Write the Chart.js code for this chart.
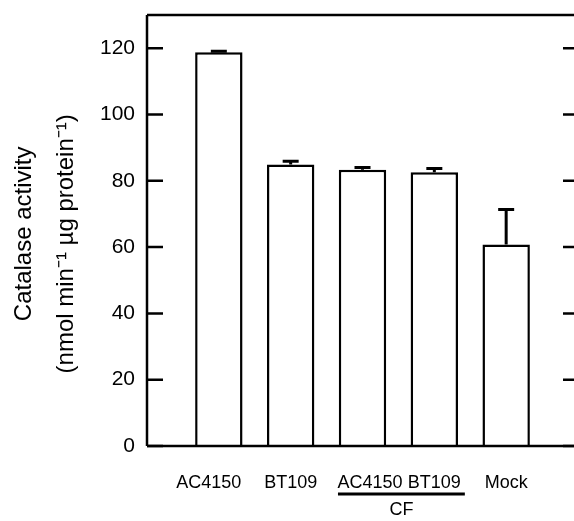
<!DOCTYPE html>
<html>
<head>
<meta charset="utf-8">
<script src="https://cdn.jsdelivr.net/npm/chart.js@4/dist/chart.umd.min.js"></script>
<style>
  html, body { margin: 0; padding: 0; background: #fff; overflow: hidden; }
  #wrap { width: 591px; height: 521px; }
</style>
</head>
<body>
<div id="wrap"><canvas id="myChart" width="591" height="521"></canvas></div>
<script>
// values
var strains = ['AC4150', 'BT109', 'AC4150', 'BT109', 'Mock'];
var activity = [118.8, 84.9, 83.3, 82.6, 60.8];
var errors = [0.3, 1.0, 0.7, 1.1, 10.5];
var yTicks = [0, 20, 40, 60, 80, 100, 120];
var groupLabel = 'CF';   // under the 3rd and 4th bars

var font = '"Liberation Sans", Arial, Helvetica, sans-serif';

// empty slot at both ends so the bars sit where the original puts them
var labels = [''].concat(strains).concat(['']);
var values = [null].concat(activity).concat([null]);
var errs = [null].concat(errors).concat([null]);

var framePlugin = {
  id: 'frame',
  afterDraw: function (chart) {
    var c = chart.ctx, a = chart.chartArea, y = chart.scales.y, x = chart.scales.x;
    c.save();
    c.strokeStyle = '#000';
    c.lineWidth = 2.5;
    c.beginPath();
    c.moveTo(a.left, a.top); c.lineTo(a.right, a.top);
    c.moveTo(a.left, a.top); c.lineTo(a.left, a.bottom);
    c.moveTo(a.left, a.bottom); c.lineTo(a.right + 20, a.bottom);
    c.moveTo(a.right, a.top); c.lineTo(a.right, a.bottom);
    c.stroke();
    // inward tick marks on both sides
    c.beginPath();
    yTicks.forEach(function (t) {
      var py = y.getPixelForValue(t);
      c.moveTo(a.left, py); c.lineTo(a.left + 16, py);
      c.moveTo(a.right - 15, py); c.lineTo(a.right, py);
    });
    c.stroke();

    // "CF" group line under the two culture filtrate bars
    c.font = '18px ' + font;
    var w3 = c.measureText(strains[2]).width, w4 = c.measureText(strains[3]).width;
    var x1 = x.getPixelForValue(3) - w3 / 2 + 8;
    var x2 = x.getPixelForValue(4) + w4 / 2 + 4;
    c.lineWidth = 3;
    c.beginPath();
    c.moveTo(x1, 494); c.lineTo(x2, 494);
    c.stroke();
    c.fillStyle = '#000';
    c.textAlign = 'center';
    c.textBaseline = 'middle';
    c.fillText(groupLabel, (x1 + x2) / 2, 510);
    c.restore();
  }
};

var errorBars = {
  id: 'errorBars',
  afterDatasetsDraw: function (chart) {
    var c = chart.ctx, y = chart.scales.y;
    var meta = chart.getDatasetMeta(0);
    c.save();
    c.strokeStyle = '#000';
    c.lineWidth = 3;
    meta.data.forEach(function (bar, i) {
      if (values[i] === null) return;
      var top = y.getPixelForValue(values[i] + errs[i]);
      var base = y.getPixelForValue(values[i]);
      c.beginPath();
      c.moveTo(bar.x, base); c.lineTo(bar.x, top);
      c.moveTo(bar.x - 8, top); c.lineTo(bar.x + 8, top);
      c.stroke();
    });
    c.restore();
  }
};

var ctx = document.getElementById('myChart');

var myChart = new Chart(ctx, {
  type: 'bar',
  data: {
    labels: labels,
    datasets: [{
      data: values,
      backgroundColor: '#fff',
      borderColor: '#000',
      borderWidth: 2.5,
      barPercentage: 0.66,
      categoryPercentage: 1
    }]
  },
  options: {
    responsive: false,
    animation: false,
    layout: { padding: { top: 15, right: 13, left: 0, bottom: 0 } },
    plugins: { legend: { display: false }, tooltip: { enabled: false } },
    scales: {
      x: {
        type: 'category',
        offset: false,
        grid: { display: false, drawTicks: false },
        border: { display: false },
        ticks: {
          color: '#000',
          font: { family: font, size: 18 },
          padding: 26,
          maxRotation: 0,
          autoSkip: false,
          // the original labels are set slightly off the bar centres
          callback: function (v, i) {
            if (i === 1) return labels[i] + '    ';
            if (i === 3) return '   ' + labels[i];
            return labels[i];
          }
        },
        afterFit: function (s) { s.height = 75; s.paddingLeft = 0; s.paddingRight = 0; }
      },
      y: {
        min: 0,
        max: 130,
        grid: { display: false, drawTicks: false },
        border: { display: false },
        ticks: {
          stepSize: 20,
          includeBounds: false,
          color: '#000',
          font: { family: font, size: 21 },
          padding: 12,
          callback: function (v) { return yTicks.indexOf(v) >= 0 ? v : null; }
        },
        title: {
          display: true,
          text: ['Catalase activity ', '(nmol min\u207B\u00B9 \u00B5g protein\u207B\u00B9)    '],
          color: '#000',
          font: { family: font, size: 24, lineHeight: 1.72 },
          padding: { top: 4, bottom: 0 }
        },
        afterFit: function (s) { s.width = 147; s.paddingTop = 0; s.paddingBottom = 0; }
      }
    }
  },
  plugins: [framePlugin, errorBars]
});
</script>
</body>
</html>
